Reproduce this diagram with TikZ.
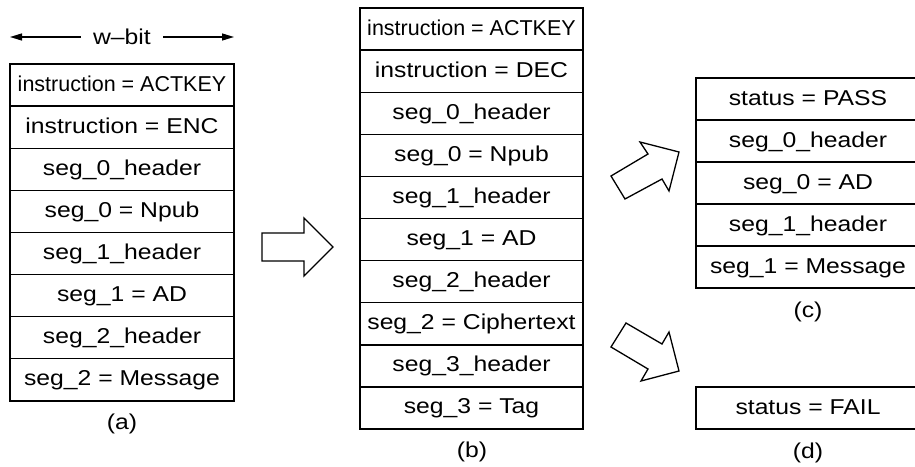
\documentclass[tikz,border=0pt]{standalone}
\usepackage{fontspec}
\setmainfont{Liberation Sans}
\newfontfamily\widefont[FakeStretch=1.15]{Liberation Sans}
\usetikzlibrary{arrows.meta}
\begin{document}
\begin{tikzpicture}[x=1pt,y=-1pt,
  row/.style={draw, line width=1.4pt, minimum width=224pt, minimum height=42.1pt,
    inner sep=0pt, text height=17pt, text depth=5pt,
    font=\widefont\fontsize{21.5}{26}\selectfont},
  smallrow/.style={row, font=\fontsize{21.5}{26}\selectfont},
  lbl/.style={inner sep=0pt, font=\widefont\fontsize{21.5}{26}\selectfont},
  blockarrow/.style={draw, line width=1.3pt, line join=miter, fill=white},
  dimarrow/.style={line width=1.3pt, -{Triangle[length=12pt,width=7pt]}}]
\useasboundingbox (0,0) rectangle (915,466);

% ---- (a) ----
\node[smallrow] (a0) at (122,{64+42.1*0.5}) {instruction = ACTKEY};
\foreach [count=\i] \t in {instruction = ENC, seg\_0\_header, seg\_0 = Npub,
    seg\_1\_header, seg\_1 = AD, seg\_2\_header, seg\_2 = Message}
  \node[row] (a\i) at (122,{64+42.1*(\i+0.5)}) {\t};
\node[lbl] (la) at (122,424) {(a)};

% w-bit dimension
\node[lbl, inner xsep=12pt] (wbit) at (122,37) {w–bit};
\coordinate (wl) at (10,37);
\coordinate (wr) at (234,37);
\draw[dimarrow] (wbit.west) -- (wl);
\draw[dimarrow] (wbit.east) -- (wr);

% ---- (b) ----
\node[smallrow, minimum width=223pt] (b0) at (471.5,{8+42.1*0.5}) {instruction = ACTKEY};
\foreach [count=\i] \t in {instruction = DEC, seg\_0\_header, seg\_0 = Npub,
    seg\_1\_header, seg\_1 = AD, seg\_2\_header, seg\_2 = Ciphertext,
    seg\_3\_header, seg\_3 = Tag}
  \node[row, minimum width=223pt] (b\i) at (471.5,{8+42.1*(\i+0.5)}) {\t};
\node[lbl] (lb) at (472,452) {(b)};

% ---- (c) ----
\foreach [count=\i from 0] \t in {status = PASS, seg\_0\_header, seg\_0 = AD,
    seg\_1\_header, seg\_1 = Message}
  \node[row] (c\i) at (808,{78+42*(\i+0.5)}) {\t};
\node[lbl] (lc) at (808,312) {(c)};

% ---- (d) ----
\node[row] (d0) at (808,408) {status = FAIL};
\node[lbl] (ld) at (808,453) {(d)};

% ---- block arrows ----
\draw[blockarrow] (262,233) -- (304,233) -- (304,218) -- (333,247)
  -- (304,276) -- (304,261) -- (262,261) -- cycle;
\draw[blockarrow] (611,176) -- (648,154) -- (640,142) -- (679,152)
  -- (669,191) -- (662,179) -- (625,199) -- cycle;
\draw[blockarrow] (611,347) -- (626,323) -- (662,344) -- (669,332)
  -- (679,371) -- (641,381) -- (648,369) -- cycle;
\end{tikzpicture}
\end{document}
